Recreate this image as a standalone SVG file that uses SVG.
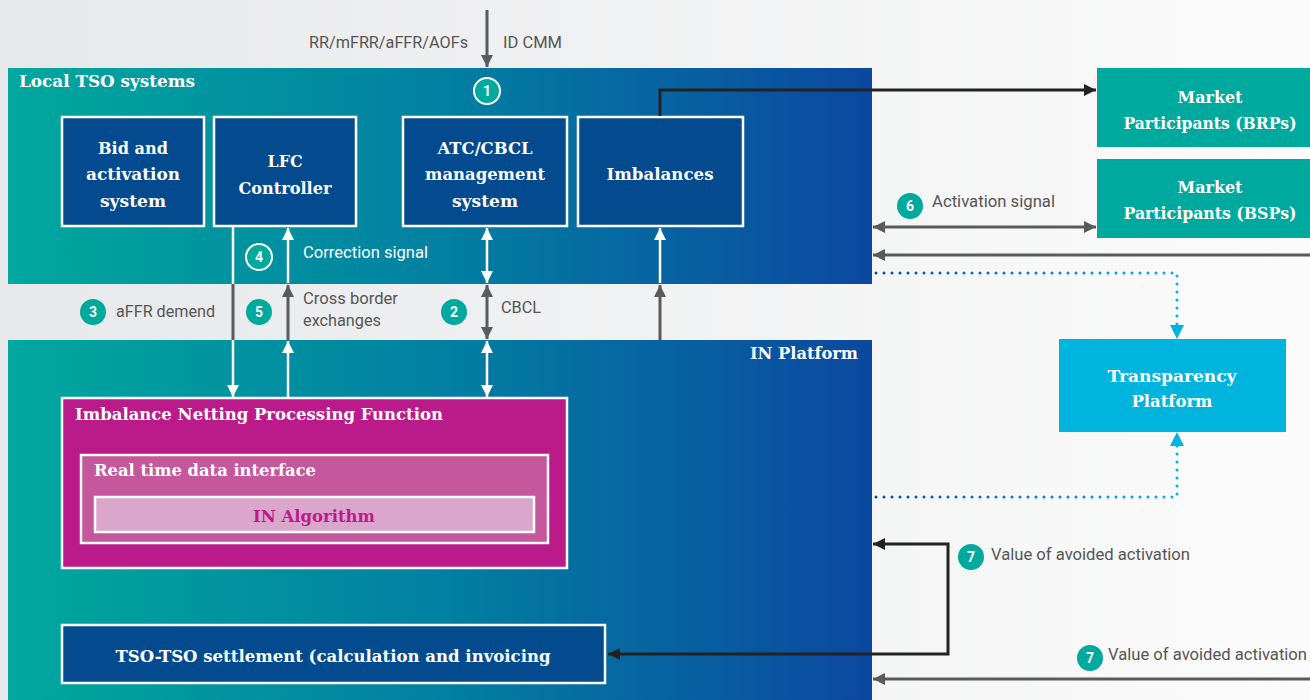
<svg xmlns="http://www.w3.org/2000/svg" width="1310" height="700" viewBox="0 0 1310 700">
<defs>
<style>
.h{font-family:"DejaVu Serif","Liberation Serif",serif;font-weight:bold;fill:#fff}
.n{font-size:17px;text-anchor:middle}
.l{font-family:Roboto,"Liberation Sans",sans-serif;font-size:16px;fill:#555}
.bt{font-family:Roboto,"Liberation Sans",sans-serif;font-weight:bold;font-size:14px;fill:#fff;text-anchor:middle}
.node{fill:#034b8e;stroke:#fff;stroke-width:2.5}
.mp{fill:#00a99d}
.badge{fill:#00a99d}
.badgeo{fill:#00a99d;stroke:#fff;stroke-width:2}
.w{stroke:#fff;stroke-width:2.5;fill:none}
.g{stroke:#5a5a5a;stroke-width:3;fill:none}
.k{stroke:#222;stroke-width:3;fill:none}
.d{stroke:url(#dots);stroke-width:3;fill:none;stroke-dasharray:0 8;stroke-linecap:round}
</style>
<linearGradient id="bg" x1="0" y1="0" x2="1" y2="0"><stop offset="0" stop-color="#e7e8ea"/><stop offset="1" stop-color="#fbfbfb"/></linearGradient>
<linearGradient id="panel" gradientUnits="userSpaceOnUse" x1="8" y1="0" x2="872" y2="0"><stop offset="0" stop-color="#00a89d"/><stop offset="0.5" stop-color="#0280a2"/><stop offset="1" stop-color="#0b48a0"/></linearGradient>
<linearGradient id="dots" gradientUnits="userSpaceOnUse" x1="872" y1="0" x2="1180" y2="0"><stop offset="0" stop-color="#0b4aa2"/><stop offset="1" stop-color="#00b4e0"/></linearGradient>
<marker id="aw" viewBox="0 0 12 12" refX="12" refY="6" markerWidth="12" markerHeight="12" markerUnits="userSpaceOnUse" orient="auto-start-reverse"><path d="M0,0 L12,6 L0,12 z" fill="#fff"/></marker>
<marker id="ag" viewBox="0 0 12 12" refX="12" refY="6" markerWidth="12" markerHeight="12" markerUnits="userSpaceOnUse" orient="auto-start-reverse"><path d="M0,0 L12,6 L0,12 z" fill="#5a5a5a"/></marker>
<marker id="ak" viewBox="0 0 12 12" refX="12" refY="6" markerWidth="12" markerHeight="12" markerUnits="userSpaceOnUse" orient="auto-start-reverse"><path d="M0,0 L12,6 L0,12 z" fill="#222"/></marker>
<marker id="ac" viewBox="0 0 12 12" refX="12" refY="6" markerWidth="14" markerHeight="14" markerUnits="userSpaceOnUse" orient="auto-start-reverse"><path d="M0,0 L12,6 L0,12 z" fill="#00b4e0"/></marker>
</defs>
<rect x="0" y="0" width="1310" height="700" fill="url(#bg)"/>
<g id="local-tso-panel">
<rect x="8" y="68" width="864" height="216" fill="url(#panel)"/>
<text class="h" x="19" y="87" font-size="16" textLength="176" lengthAdjust="spacingAndGlyphs">Local TSO systems</text>
</g>
<g id="in-platform-panel">
<rect x="8" y="340" width="864" height="360" fill="url(#panel)"/>
<text class="h" x="858" y="359" font-size="16" text-anchor="end" textLength="108" lengthAdjust="spacingAndGlyphs">IN Platform</text>
</g>
<g id="bid-activation">
<rect class="node" x="62" y="117" width="142" height="109"/>
<text class="h n" x="133" y="154" textLength="70" lengthAdjust="spacingAndGlyphs">Bid and</text>
<text class="h n" x="133" y="180" textLength="94" lengthAdjust="spacingAndGlyphs">activation</text>
<text class="h n" x="133" y="207" textLength="66" lengthAdjust="spacingAndGlyphs">system</text>
</g>
<g id="lfc-controller">
<rect class="node" x="214" y="117" width="142" height="109"/>
<text class="h n" x="285" y="167" textLength="35" lengthAdjust="spacingAndGlyphs">LFC</text>
<text class="h n" x="285" y="194" textLength="93" lengthAdjust="spacingAndGlyphs">Controller</text>
</g>
<g id="atc-cbcl">
<rect class="node" x="403" y="117" width="164" height="109"/>
<text class="h n" x="485" y="154" textLength="95" lengthAdjust="spacingAndGlyphs">ATC/CBCL</text>
<text class="h n" x="485" y="180" textLength="120" lengthAdjust="spacingAndGlyphs">management</text>
<text class="h n" x="485" y="207" textLength="66" lengthAdjust="spacingAndGlyphs">system</text>
</g>
<g id="imbalances">
<rect class="node" x="578" y="117" width="165" height="109"/>
<text class="h n" x="660" y="180" textLength="107" lengthAdjust="spacingAndGlyphs">Imbalances</text>
</g>
<g id="market-brps">
<rect class="mp" x="1097" y="68" width="213" height="79"/>
<text class="h n" x="1210" y="103" textLength="65" lengthAdjust="spacingAndGlyphs">Market</text>
<text class="h n" x="1210" y="129" textLength="173" lengthAdjust="spacingAndGlyphs">Participants (BRPs)</text>
</g>
<g id="market-bsps">
<rect class="mp" x="1097" y="159" width="213" height="79"/>
<text class="h n" x="1210" y="193" textLength="65" lengthAdjust="spacingAndGlyphs">Market</text>
<text class="h n" x="1210" y="219" textLength="173" lengthAdjust="spacingAndGlyphs">Participants (BSPs)</text>
</g>
<g id="transparency-platform">
<rect x="1059" y="339" width="227" height="93" fill="#00b4de"/>
<text class="h n" x="1172" y="382" textLength="129" lengthAdjust="spacingAndGlyphs">Transparency</text>
<text class="h n" x="1172" y="407" textLength="81" lengthAdjust="spacingAndGlyphs">Platform</text>
</g>
<g id="in-processing-function">
<rect x="62" y="398" width="505" height="170" fill="#bb1b8a" stroke="#fff" stroke-width="2.5"/>
<text class="h" x="75" y="420" font-size="16" textLength="368" lengthAdjust="spacingAndGlyphs">Imbalance Netting Processing Function</text>
</g>
<g id="real-time-data-interface">
<rect x="81" y="455" width="467" height="88" fill="#c5579c" stroke="#fff" stroke-width="2.5"/>
<text class="h" x="94" y="476" font-size="16" textLength="222" lengthAdjust="spacingAndGlyphs">Real time data interface</text>
</g>
<g id="in-algorithm">
<rect x="95" y="497" width="439" height="35" fill="#dba6cc" stroke="#fff" stroke-width="2.5"/>
<text class="h n" x="314" y="522" style="fill:#bb1b8a" font-size="16" textLength="122" lengthAdjust="spacingAndGlyphs">IN Algorithm</text>
</g>
<g id="tso-settlement">
<rect class="node" x="62" y="625" width="543" height="58"/>
<text class="h n" x="333" y="662" textLength="435" lengthAdjust="spacingAndGlyphs">TSO-TSO settlement (calculation and invoicing</text>
</g>
<g id="connectors">
<path class="g" d="M487,10 V67" marker-end="url(#ag)"/>
<path class="w" d="M233,226 V284"/>
<path class="g" d="M233,284 V340"/>
<path class="w" d="M233,340 V397" marker-end="url(#aw)"/>
<path class="w" d="M288,283 V228" marker-end="url(#aw)"/>
<path class="g" d="M288,340 V285" marker-end="url(#ag)"/>
<path class="w" d="M288,398 V341" marker-end="url(#aw)"/>
<path class="w" d="M487,283 V228" marker-start="url(#aw)" marker-end="url(#aw)"/>
<path class="g" d="M487,339 V285" marker-start="url(#ag)" marker-end="url(#ag)"/>
<path class="w" d="M487,397 V341" marker-start="url(#aw)" marker-end="url(#aw)"/>
<path class="w" d="M660,283 V228" marker-end="url(#aw)"/>
<path class="g" d="M660,340 V285" marker-end="url(#ag)"/>
<path class="k" d="M660,116 V90 H1096" marker-end="url(#ak)"/>
<path class="g" d="M873,227 H1096" marker-start="url(#ag)" marker-end="url(#ag)"/>
<path class="g" d="M1310,255 H873" marker-end="url(#ag)"/>
<path class="d" d="M876,273 H1177 V330"/>
<path d="M1177,325 V339" stroke="none" fill="none" marker-end="url(#ac)"/>
<path class="d" d="M876,497 H1177 V440"/>
<path d="M1177,446 V432" stroke="none" fill="none" marker-end="url(#ac)"/>
<path class="k" d="M608,654 H948 V544 H873" marker-start="url(#ak)" marker-end="url(#ak)"/>
<path class="g" d="M1310,679 H873" marker-end="url(#ag)"/>
</g>
<g id="labels">
<text class="l" x="468" y="48" text-anchor="end" textLength="159" lengthAdjust="spacingAndGlyphs">RR/mFRR/aFFR/AOFs</text>
<text class="l" x="503" y="48" textLength="59" lengthAdjust="spacingAndGlyphs">ID CMM</text>
<text class="l" x="303" y="258" textLength="125" lengthAdjust="spacingAndGlyphs" style="fill:#fff">Correction signal</text>
<text class="l" x="303" y="304" textLength="95" lengthAdjust="spacingAndGlyphs">Cross border</text>
<text class="l" x="303" y="326" textLength="78" lengthAdjust="spacingAndGlyphs">exchanges</text>
<text class="l" x="116" y="317" textLength="99" lengthAdjust="spacingAndGlyphs">aFFR demend</text>
<text class="l" x="501" y="313" textLength="40" lengthAdjust="spacingAndGlyphs">CBCL</text>
<text class="l" x="932" y="207" textLength="123" lengthAdjust="spacingAndGlyphs">Activation signal</text>
<text class="l" x="991" y="560" textLength="199" lengthAdjust="spacingAndGlyphs">Value of avoided activation</text>
<text class="l" x="1108" y="660" textLength="199" lengthAdjust="spacingAndGlyphs">Value of avoided activation</text>
</g>
<g id="badges">
<circle class="badgeo" cx="487" cy="91" r="13"/><text class="bt" x="487" y="96">1</text>
<circle class="badgeo" cx="259" cy="257" r="13"/><text class="bt" x="259" y="262">4</text>
<circle class="badge" cx="93" cy="312" r="13"/><text class="bt" x="93" y="317">3</text>
<circle class="badge" cx="259" cy="312" r="13"/><text class="bt" x="259" y="317">5</text>
<circle class="badge" cx="454" cy="312" r="13"/><text class="bt" x="454" y="317">2</text>
<circle class="badge" cx="910" cy="206" r="13"/><text class="bt" x="910" y="211">6</text>
<circle class="badge" cx="971" cy="557" r="13"/><text class="bt" x="971" y="562">7</text>
<circle class="badge" cx="1090" cy="658" r="13"/><text class="bt" x="1090" y="663">7</text>
</g>
</svg>
